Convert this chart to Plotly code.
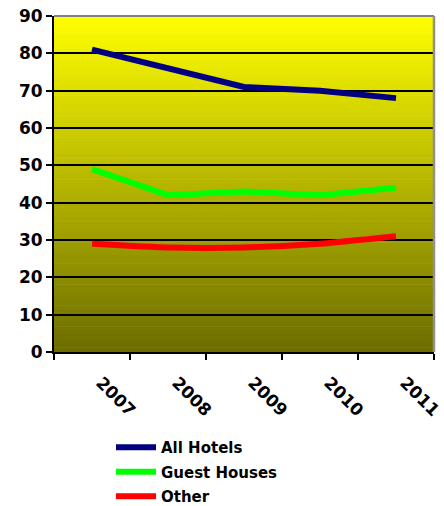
import plotly.graph_objects as go

years = ["2007", "2008", "2009", "2010", "2011"]
all_hotels = [81, 76, 71, 70, 68]
guest_houses = [49, 42, 43, 42, 44]
other = [29, 28, 28, 29, 31]

series = [
    ("All Hotels", all_hotels, "#000080", "linear"),
    ("Guest Houses", guest_houses, "#00FF00", "linear"),
    ("Other", other, "#FF0000", "spline"),
]

FONT = "DejaVu Sans"

fig = go.Figure()
for name, vals, color, shape in series:
    fig.add_trace(go.Scatter(
        x=years, y=vals, name=name, mode="lines", legendgroup=name,
        line=dict(color=color, width=6, shape=shape, smoothing=0.5),
    ))

# vertical yellow-to-olive gradient behind the plot area
shapes = []
n = 80
top = (255, 255, 0)
bottom = (108, 108, 0)
for i in range(n):
    t = (i + 0.5) / n
    c = tuple(round(top[k] + (bottom[k] - top[k]) * t) for k in range(3))
    shapes.append(dict(
        type="rect", xref="x domain", yref="y domain",
        x0=0, x1=1, y0=1 - (i + 1) / n, y1=1 - i / n + 0.002,
        fillcolor="rgb(%d,%d,%d)" % c, line=dict(width=0), layer="below",
    ))
# grey frame on the top and right edges
shapes.append(dict(type="line", xref="x domain", yref="y domain",
                   x0=0, x1=1, y0=1, y1=1, line=dict(color="#808080", width=2)))
shapes.append(dict(type="line", xref="x domain", yref="y domain",
                   x0=1, x1=1, y0=0, y1=1, line=dict(color="#909090", width=2.5)))

fig.update_layout(
    width=444, height=506,
    margin=dict(l=54, r=10, t=16, b=154, autoexpand=False),
    paper_bgcolor="white", plot_bgcolor="rgba(0,0,0,0)",
    shapes=shapes,
    font=dict(family=FONT, color="black"),
    showlegend=True,
    legend=dict(
        x=0.15, y=0.148, xref="paper", yref="container",
        xanchor="left", yanchor="top",
        font=dict(family=FONT, size=15, weight="bold"),
        bgcolor="rgba(0,0,0,0)", traceorder="grouped", tracegroupgap=2,
        itemwidth=40,
    ),
    xaxis=dict(
        type="category", tickson="boundaries", range=[-0.5, 4.5],
        showgrid=False, showline=True, linecolor="black", linewidth=2,
        ticks="outside", ticklen=6, tickwidth=2, tickcolor="black",
        tickangle=45, ticklabelstandoff=12, ticklabelshift=9,
        tickfont=dict(family=FONT, size=17, weight="bold"),
        automargin=False,
    ),
    yaxis=dict(
        range=[0, 90], dtick=10,
        showgrid=True, gridcolor="black", gridwidth=1.5,
        zeroline=False,
        showline=True, linecolor="black", linewidth=2,
        ticks="outside", ticklen=6, tickwidth=2, tickcolor="black",
        tickfont=dict(family=FONT, size=17, weight="bold"),
        automargin=False,
    ),
)

fig.write_html("out.html")
